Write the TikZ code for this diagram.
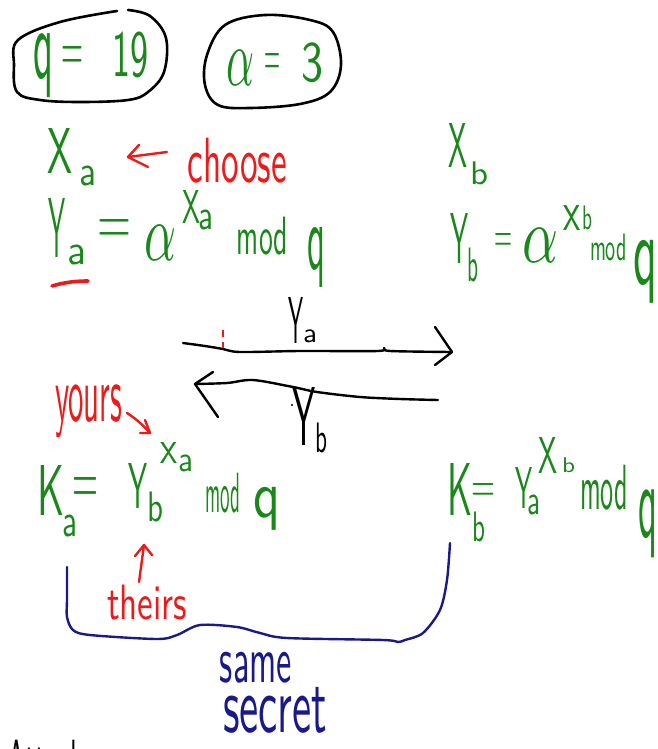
\documentclass[tikz,border=0pt]{standalone}
\usepackage{fontspec}
\usepackage{graphicx}
\definecolor{hg}{RGB}{25,135,25}
\definecolor{hr}{RGB}{240,25,25}
\definecolor{hb}{RGB}{25,25,140}
\newcommand\hw[3]{\resizebox*{#1pt}{#2pt}{\sffamily #3}}
\begin{document}
\begin{tikzpicture}[x=1pt,y=-1pt,
  gl/.style={inner sep=0pt,outer sep=0pt,anchor=center},
  ink/.style={line width=2.4pt,line cap=round,line join=round}]
\clip (0,0) rectangle (657,749);
\fill[white] (0,0) rectangle (657,749);

% ---- parameters in ellipses
\draw[ink,line width=2.6pt] plot[smooth,tension=0.6] coordinates {(128,10) (150,16) (166,38) (164,72) (148,92) (128,100) (80,102) (40,100) (17,92) (14,65) (18,40) (60,22) (117,11)};
\node[gl,text=hg] (q1) at (43,66) {\hw{20}{64}{q}};
\node[gl,text=hg] (eq1) at (72.5,58.5) {\hw{22}{24}{=}};
\node[gl,text=hg] (n19) at (130,55) {\hw{36}{46}{19}};
\draw[ink,line width=2.6pt] plot[smooth cycle,tension=0.6] coordinates {(207,55) (225,25) (265,15) (310,20) (333,32) (341,65) (330,92) (300,104) (250,108) (218,105) (205,85)};
\node[gl,text=hg] (al1) at (240,67.5) {\hw{28}{35}{$\alpha$}};
\node[gl,text=hg] (eq2) at (272.5,64) {\hw{16}{22}{=}};
\node[gl,text=hg] (n3) at (312.5,63) {\hw{22}{40}{3}};

% ---- X_a <- choose
\node[gl,text=hg] (xaX) at (59.5,150.5) {\hw{25}{45}{X}};
\node[gl,text=hg] (xaa) at (88.5,176) {\hw{17}{20}{a}};
\node[gl,text=hr] (choose) at (237.5,160.5) {\hw{99}{45}{choose}};
\coordinate (chs) at (167,152);
\coordinate (cht) at (128,157);
\draw[ink,hr] (chs) -- (cht);
\draw[ink,hr] (139,145) -- (cht) -- (148,167);

% ---- X_b
\node[gl,text=hg] (xbX) at (457.5,145) {\hw{19}{44}{X}};
\node[gl,text=hg] (xbb) at (479,173.5) {\hw{18}{23}{b}};

% ---- Y_a = alpha^Xa mod q
\node[gl,text=hg] (yaY) at (56.5,227.5) {\hw{17}{59}{Y}};
\node[gl,text=hg] (yaa) at (77.5,255) {\hw{19}{20}{a}};
\draw[ink,hr,line width=3.6pt] (52,286) .. controls (65,282) and (78,281) .. (88,281);
\node[gl,text=hg] (yaeq) at (114.5,231.5) {\hw{34}{24}{=}};
\node[gl,text=hg] (yaal) at (160,242.5) {\hw{32}{35}{$\alpha$}};
\node[gl,text=hg] (yasX) at (191,206.5) {\hw{18}{33}{X}};
\node[gl,text=hg] (yasa) at (205.5,220) {\hw{15}{20}{a}};
\node[gl,text=hg] (yamod) at (262.5,236) {\hw{51}{38}{mod}};
\node[gl,text=hg] (yaq) at (316,257) {\hw{18}{60}{q}};

% ---- Y_b = alpha^xb mod q
\node[gl,text=hg] (ybY) at (459,238) {\hw{18}{50}{Y}};
\node[gl,text=hg] (ybb) at (472.5,265) {\hw{11}{34}{b}};
\node[gl,text=hg] (ybeq) at (503.5,242) {\hw{18}{18}{=}};
\node[gl,text=hg] (ybal) at (540,245) {\hw{36}{34}{$\alpha$}};
\node[gl,text=hg] (ybsx) at (571.5,217.5) {\hw{17}{25}{x}};
\node[gl,text=hg] (ybsb) at (587,218) {\hw{10}{24}{b}};
\node[gl,text=hg] (ybmod) at (608.5,247.5) {\hw{37}{27}{mod}};
\node[gl,text=hg] (ybq) at (645,271.5) {\hw{24}{63}{q}};

% ---- exchange arrows
\coordinate (a1s) at (183,343);
\coordinate (a1t) at (452,352);
\draw[ink] plot[smooth,tension=0.5] coordinates {(a1s) (205,346) (223,349) (240,352) (300,351) (378,351) (384,348) (390,351) (a1t)};
\draw[ink] (435,327) -- (a1t) -- (435,365);
\node[gl] (laY) at (295.5,320) {\hw{15}{46}{Y}};
\node[gl] (laa) at (310,336.5) {\hw{14}{13}{a}};
\draw[hr,line width=1.8pt] (223,330) -- (223,337) (223,342) -- (223,348);

\coordinate (a2s) at (438,400);
\coordinate (a2t) at (195,384);
\draw[ink] plot[smooth,tension=0.5] coordinates {(a2s) (400,399) (360,397) (317,392) (293,387) (253,380) (227,383) (a2t)};
\draw[ink] (213,372) -- (a2t) -- (218,417);
\node[gl] (lbY) at (303.5,416) {\hw{23}{58}{Y}};
\node[gl] (lbb) at (321,438) {\hw{12}{30}{b}};
\fill (292,405) circle (1.1pt);

% ---- K_a = Y_b^xa mod q
\node[gl,text=hr] (yours) at (88.5,411.5) {\hw{67}{53}{yours}};
\coordinate (yrs) at (127,413);
\coordinate (yrt) at (150,433);
\draw[ink,hr] (yrs) .. controls (135,418) and (143,425) .. (yrt);
\draw[ink,hr] (145,420) -- (yrt) -- (140,433);
\node[gl,text=hg] (kasx) at (168.5,452.5) {\hw{17}{21}{x}};
\node[gl,text=hg] (kasa) at (185.5,463.5) {\hw{15}{17}{a}};
\node[gl,text=hg] (kaK) at (51.5,490) {\hw{27}{50}{K}};
\node[gl,text=hg] (kaa) at (69.5,526) {\hw{15}{22}{a}};
\node[gl,text=hg] (kaeq) at (86,490.5) {\hw{26}{26}{=}};
\node[gl,text=hg] (kaY) at (137.5,485.5) {\hw{19}{45}{Y}};
\node[gl,text=hg] (kab) at (155,507) {\hw{16}{30}{b}};
\node[gl,text=hg] (kamod) at (222.5,493) {\hw{35}{40}{mod}};
\node[gl,text=hg] (kaq) at (266.5,508.5) {\hw{27}{43}{q}};

% ---- K_b = Y_a^Xb mod q
\node[gl,text=hg] (kbK) at (459.5,489) {\hw{25}{52}{K}};
\node[gl,text=hg] (kbb) at (478.5,527) {\hw{13}{30}{b}};
\node[gl,text=hg] (kbeq) at (483,492) {\hw{24}{18}{=}};
\node[gl,text=hg] (kbY) at (523.5,487.5) {\hw{17}{41}{Y}};
\node[gl,text=hg] (kba) at (533.5,505) {\hw{13}{20}{a}};
\node[gl,text=hg] (kbsX) at (547.5,455) {\hw{19}{36}{X}};
\node[gl,text=hg] (kbsb) at (568.5,465.5) {\hw{13}{15}{b}};
\node[gl,text=hg] (kbmod) at (604,487.5) {\hw{48}{45}{mod}};
\node[gl,text=hg] (kbq) at (647.5,524) {\hw{19}{68}{q}};

% ---- theirs
\coordinate (ths) at (139,582);
\coordinate (tht) at (144,545);
\draw[ink,hr] (ths) -- (tht);
\draw[ink,hr] (135,556) -- (tht) -- (152,555);
\node[gl,text=hr] (theirs) at (147,602.5) {\hw{80}{35}{theirs}};

% ---- bracket: same secret
\coordinate (brl) at (67,567);
\coordinate (brr) at (450,543);
\draw[ink,hb] plot[smooth,tension=0.5] coordinates {(brl) (67,600) (67,617) (73,630) (90,635) (157,639) (177,635) (200,625) (237,627) (260,633) (287,638) (383,640) (398,642) (405,640) (423,633) (440,610) (447,580) (brr)};
\node[gl,text=hb] (same) at (256,667.5) {\hw{72}{31}{same}};
\node[gl,text=hb] (secret) at (275,710) {\hw{104}{46}{secret}};

% ---- cut-off text at the bottom
\node[gl] (attack) at (46,763) {\hw{77}{45}{Attack}};
\end{tikzpicture}
\end{document}
